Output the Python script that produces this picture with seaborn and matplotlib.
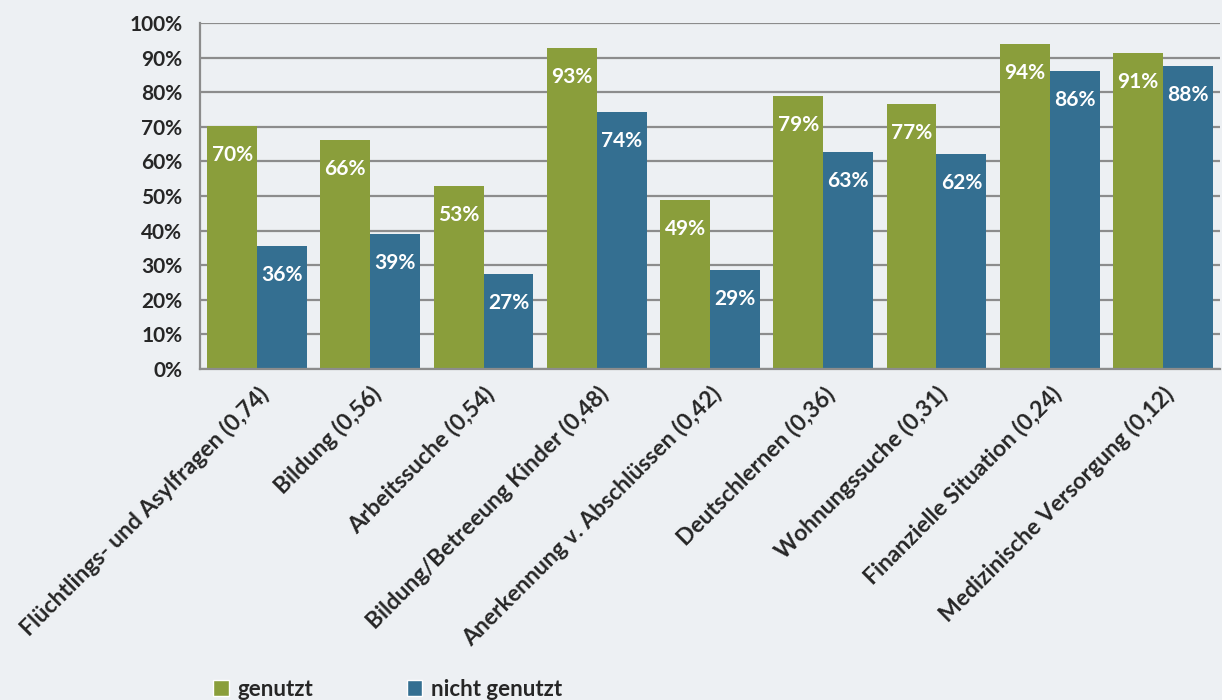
import matplotlib
matplotlib.use("Agg")
import matplotlib.pyplot as plt
import numpy as np
import pandas as pd
import seaborn as sns
from matplotlib.ticker import FuncFormatter, FixedLocator
from matplotlib.patches import Patch

# ! Data
categories = [
    "Flüchtlings- und Asylfragen (0,74)",
    "Bildung (0,56)",
    "Arbeitssuche (0,54)",
    "Bildung/Betreeung Kinder (0,48)",
    "Anerkennung v. Abschlüssen (0,42)",
    "Deutschlernen (0,36)",
    "Wohnungssuche (0,31)",
    "Finanzielle Situation (0,24)",
    "Medizinische Versorgung (0,12)",
]
genutzt = [70.2, 66.2, 52.9, 92.8, 48.8, 78.9, 76.6, 93.9, 91.4]
nicht_genutzt = [35.6, 39.0, 27.4, 74.2, 28.6, 62.7, 62.1, 86.2, 87.5]
series_names = ["genutzt", "nicht genutzt"]

bg = "#EDF0F3"
green = "#8A9E3B"
blue = "#346F91"
grid_col = "#8C8C8C"

df = pd.DataFrame({
    "Kategorie": categories * 2,
    "Anteil": genutzt + nicht_genutzt,
    "Gruppe": [series_names[0]] * len(categories) + [series_names[1]] * len(categories),
})

sns.set_style("white")
plt.rcParams["font.family"] = ["Lato", "DejaVu Sans"]
plt.rcParams["font.weight"] = "bold"

fig = plt.figure(figsize=(12.22, 7.0), dpi=100, facecolor=bg)
ax = fig.add_axes([0.164, 0.473, 0.834, 0.494])
ax.set_facecolor(bg)

sns.barplot(
    data=df, x="Kategorie", y="Anteil", hue="Gruppe",
    palette=[green, blue], width=0.88, saturation=1, ax=ax, legend=False,
    linewidth=0, edgecolor="none",
)

# value labels inside bars near top
for cont in ax.containers:
    ax.bar_label(
        cont, labels=[f"{v:.0f}%" for v in cont.datavalues],
        label_type="edge", padding=-28, color="white",
        fontsize=15, fontweight="bold",
    )

ax.set_ylim(0, 100)
ax.set_xlim(-0.5, len(categories) - 0.5)
ax.set_yticks(np.arange(0, 101, 10))
ax.yaxis.set_major_formatter(FuncFormatter(lambda v, p: f"{v:.0f}%"))
ax.yaxis.grid(True, color=grid_col, linewidth=1.6)
ax.set_axisbelow(True)
ax.set_xlabel("")
ax.set_ylabel("")

for s in ["top", "right"]:
    ax.spines[s].set_visible(False)
for s in ["left", "bottom"]:
    ax.spines[s].set_color(grid_col)
    ax.spines[s].set_linewidth(1.6)

ax.tick_params(axis="y", length=8, width=1.6, color=grid_col, labelsize=15, pad=5)
ax.tick_params(axis="x", which="major", length=0, pad=10)
ax.xaxis.set_minor_locator(FixedLocator(np.arange(-0.5, len(categories), 1.0)))
ax.tick_params(axis="x", which="minor", length=8, width=1.6, color=grid_col)

ax.set_xticks(range(len(categories)))
ax.set_xticklabels(categories, rotation=45, ha="right", va="top",
                   rotation_mode="anchor", fontsize=16.5, fontweight="bold")
for lab in ax.get_yticklabels():
    lab.set_fontweight("bold")

handles = [Patch(facecolor=green, label=series_names[0]),
           Patch(facecolor=blue, label=series_names[1])]
fig.legend(handles=handles, loc="lower left", bbox_to_anchor=(0.158, -0.028),
           ncol=2, frameon=False, handlelength=0.7, handleheight=0.7,
           handletextpad=0.4, columnspacing=4.2, prop={"weight": "bold", "size": 16})

fig.savefig("out.png", dpi=100, facecolor=bg)
